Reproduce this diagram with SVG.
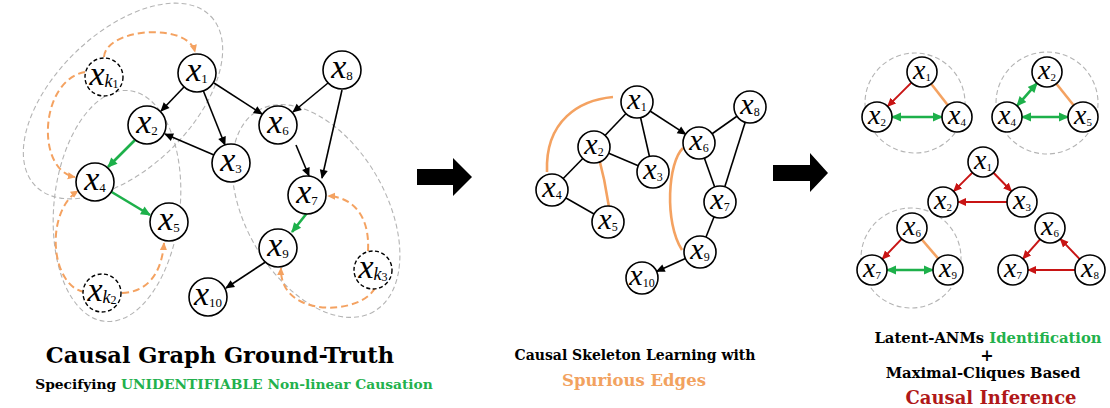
<svg xmlns="http://www.w3.org/2000/svg" width="1110" height="408" viewBox="0 0 1110 408">
<style>
.n{fill:#fff;stroke:#000;stroke-width:1.6}
.nd{fill:#fff;stroke:#000;stroke-width:1.4;stroke-dasharray:4 2.5}
.t{font-family:"Liberation Serif","Times New Roman",serif;text-anchor:middle;fill:#000}
.v{font-style:italic}
.blk{stroke:#000;stroke-width:1.6;fill:none}
.grn{stroke:#1db04a;stroke-width:2.6;fill:none}
.red{stroke:#c81414;stroke-width:2;fill:none}
.org{stroke:#f4a261;stroke-width:2.6;fill:none}
.od{stroke:#f4a261;stroke-width:2;fill:none;stroke-dasharray:7 4}
.gd{stroke:#b4b4b4;stroke-width:1.1;fill:none;stroke-dasharray:5 3}
.cap{font-family:"DejaVu Serif","Liberation Serif",serif;font-weight:bold;text-anchor:middle;fill:#000}
.cg{fill:#22b14c}
.co{fill:#f2a25f}
.cr{fill:#b01818}
</style>
<defs>
<marker id="ab" viewBox="0 0 10 10" refX="9" refY="5" markerWidth="10" markerHeight="9" markerUnits="userSpaceOnUse" orient="auto-start-reverse"><path d="M0,0.5 L10,5 L0,9.5 z" fill="#000"/></marker>
<marker id="ag" viewBox="0 0 10 10" refX="9" refY="5" markerWidth="11" markerHeight="10" markerUnits="userSpaceOnUse" orient="auto-start-reverse"><path d="M0,0.5 L10,5 L0,9.5 z" fill="#1db04a"/></marker>
<marker id="ar" viewBox="0 0 10 10" refX="9" refY="5" markerWidth="9" markerHeight="9" markerUnits="userSpaceOnUse" orient="auto-start-reverse"><path d="M0,0.5 L10,5 L0,9.5 z" fill="#c81414"/></marker>
<marker id="ao" viewBox="0 0 10 10" refX="9" refY="5" markerWidth="8" markerHeight="8" markerUnits="userSpaceOnUse" orient="auto-start-reverse"><path d="M0,0.5 L10,5 L0,9.5 z" fill="#f4a261"/></marker>
</defs>
<rect width="1110" height="408" fill="#fff"/>

<g id="groupings">
<ellipse class="gd" cx="123" cy="101" rx="122" ry="68" transform="rotate(-44 123 101)"/>
<ellipse class="gd" cx="117" cy="206" rx="63" ry="116" transform="rotate(6 117 206)"/>
<ellipse class="gd" cx="316" cy="211" rx="116" ry="70" transform="rotate(60 316 211)"/>
<circle class="gd" cx="915" cy="103" r="50"/>
<circle class="gd" cx="1047" cy="103" r="51"/>
<circle class="gd" cx="911" cy="258" r="50"/>
</g>

<g id="connectors">
<!-- left panel -->
<line class="blk" x1="184" y1="87" x2="161" y2="111" marker-end="url(#ab)"/>
<line class="blk" x1="203" y1="90" x2="225" y2="145" marker-end="url(#ab)"/>
<line class="blk" x1="214" y1="83" x2="262" y2="114" marker-end="url(#ab)"/>
<line class="blk" x1="214" y1="155" x2="165" y2="134" marker-end="url(#ab)"/>
<line class="blk" x1="328" y1="83" x2="293" y2="112" marker-end="url(#ab)"/>
<line class="blk" x1="342" y1="90" x2="322" y2="178" marker-end="url(#ab)"/>
<line class="blk" x1="296" y1="145" x2="309" y2="176" marker-end="url(#ab)"/>
<line class="blk" x1="267" y1="261" x2="226" y2="288" marker-end="url(#ab)"/>
<line class="grn" x1="135" y1="140" x2="108" y2="167" marker-end="url(#ag)"/>
<line class="grn" x1="110" y1="191" x2="150" y2="215" marker-end="url(#ag)"/>
<line class="grn" x1="307" y1="213" x2="292" y2="232" marker-end="url(#ag)"/>
<path class="od" d="M104,57 C106,28 188,22 195,52" marker-end="url(#ao)"/>
<path class="od" d="M85,72 C40,80 35,170 75,177" marker-end="url(#ao)"/>
<path class="od" d="M84,292 C50,285 45,212 78,191" marker-end="url(#ao)"/>
<path class="od" d="M122,293 C150,292 162,270 164,243" marker-end="url(#ao)"/>
<path class="od" d="M368,251 C370,215 352,197 328,196" marker-end="url(#ao)"/>
<path class="od" d="M375,288 C360,316 279,318 281,268" marker-end="url(#ao)"/>
<!-- middle panel -->
<line class="blk" x1="637" y1="102" x2="594" y2="147"/>
<line class="blk" x1="637" y1="102" x2="653" y2="172"/>
<line class="blk" x1="650" y1="111" x2="685.7" y2="134.2" marker-end="url(#ab)"/>
<line class="blk" x1="594" y1="147" x2="653" y2="172"/>
<line class="blk" x1="594" y1="147" x2="552" y2="190"/>
<line class="blk" x1="552" y1="190" x2="608" y2="222"/>
<line class="blk" x1="699" y1="143" x2="750" y2="107"/>
<line class="blk" x1="699" y1="143" x2="720" y2="202"/>
<line class="blk" x1="750" y1="107" x2="720" y2="202"/>
<line class="blk" x1="720" y1="202" x2="700" y2="252"/>
<line class="blk" x1="685.4" y1="258.5" x2="656.6" y2="271.5" marker-end="url(#ab)"/>
<path class="org" d="M613,97 C580,100 545,120 547,172"/>
<path class="org" d="M598,154 Q605,180 609,207"/>
<path class="org" d="M683,148 C668,162 664,222 682,250"/>
<!-- right panel -->
<line class="red" x1="911.4" y1="82.6" x2="887.6" y2="106.4" marker-end="url(#ar)"/>
<line class="org" x1="922" y1="72" x2="957" y2="117"/>
<line class="grn" x1="892" y1="117" x2="942" y2="117" marker-start="url(#ag)" marker-end="url(#ag)"/>
<line class="grn" x1="1037" y1="83.2" x2="1017" y2="105.8" marker-start="url(#ag)" marker-end="url(#ag)"/>
<line class="org" x1="1047" y1="72" x2="1083" y2="117"/>
<line class="grn" x1="1022" y1="117" x2="1068" y2="117" marker-start="url(#ag)" marker-end="url(#ag)"/>
<line class="red" x1="972.4" y1="172.6" x2="953.6" y2="191.4" marker-end="url(#ar)"/>
<line class="red" x1="993.5" y1="172.7" x2="1011.5" y2="191.3" marker-end="url(#ar)"/>
<line class="red" x1="1007" y1="202" x2="958" y2="202" marker-end="url(#ar)"/>
<line class="red" x1="901.7" y1="238.9" x2="882.3" y2="259.1" marker-end="url(#ar)"/>
<line class="org" x1="912" y1="228" x2="948" y2="270"/>
<line class="grn" x1="887" y1="270" x2="933" y2="270" marker-start="url(#ag)" marker-end="url(#ag)"/>
<line class="red" x1="1040" y1="239.3" x2="1022.9" y2="258.8" marker-end="url(#ar)"/>
<line class="red" x1="1079.7" y1="259.1" x2="1060.3" y2="238.9" marker-end="url(#ar)"/>
<line class="red" x1="1075" y1="270" x2="1028" y2="270" marker-end="url(#ar)"/>
</g>

<!-- left panel nodes -->
<g id="L-xk1"><circle class="nd" cx="104" cy="77" r="19"/><text class="t" x="104" y="85" font-size="34"><tspan class="v">x</tspan><tspan class="v" font-size="18" dy="2">k</tspan><tspan font-size="12" dy="1">1</tspan></text></g>
<g id="L-x1"><circle class="n" cx="197" cy="73" r="19"/><text class="t" x="197" y="81" font-size="34"><tspan class="v">x</tspan><tspan font-size="13" dy="2">1</tspan></text></g>
<g id="L-x8"><circle class="n" cx="342" cy="70" r="19"/><text class="t" x="342" y="78" font-size="34"><tspan class="v">x</tspan><tspan font-size="13" dy="2">8</tspan></text></g>
<g id="L-x2"><circle class="n" cx="147" cy="125" r="19"/><text class="t" x="147" y="133" font-size="34"><tspan class="v">x</tspan><tspan font-size="13" dy="2">2</tspan></text></g>
<g id="L-x6"><circle class="n" cx="278" cy="125" r="19"/><text class="t" x="278" y="133" font-size="34"><tspan class="v">x</tspan><tspan font-size="13" dy="2">6</tspan></text></g>
<g id="L-x3"><circle class="n" cx="231" cy="163" r="19"/><text class="t" x="231" y="171" font-size="34"><tspan class="v">x</tspan><tspan font-size="13" dy="2">3</tspan></text></g>
<g id="L-x4"><circle class="n" cx="95" cy="182" r="19"/><text class="t" x="95" y="190" font-size="34"><tspan class="v">x</tspan><tspan font-size="13" dy="2">4</tspan></text></g>
<g id="L-x7"><circle class="n" cx="307" cy="195" r="19"/><text class="t" x="307" y="203" font-size="34"><tspan class="v">x</tspan><tspan font-size="13" dy="2">7</tspan></text></g>
<g id="L-x5"><circle class="n" cx="169" cy="222" r="19"/><text class="t" x="169" y="230" font-size="34"><tspan class="v">x</tspan><tspan font-size="13" dy="2">5</tspan></text></g>
<g id="L-x9"><circle class="n" cx="278" cy="248" r="19"/><text class="t" x="278" y="256" font-size="34"><tspan class="v">x</tspan><tspan font-size="13" dy="2">9</tspan></text></g>
<g id="L-xk3"><circle class="nd" cx="373" cy="270" r="19"/><text class="t" x="373" y="278" font-size="34"><tspan class="v">x</tspan><tspan class="v" font-size="18" dy="2">k</tspan><tspan font-size="12" dy="1">3</tspan></text></g>
<g id="L-xk2"><circle class="nd" cx="102" cy="293" r="19"/><text class="t" x="102" y="301" font-size="34"><tspan class="v">x</tspan><tspan class="v" font-size="18" dy="2">k</tspan><tspan font-size="12" dy="1">2</tspan></text></g>
<g id="L-x10"><circle class="n" cx="208" cy="297" r="19"/><text class="t" x="208" y="305" font-size="34"><tspan class="v">x</tspan><tspan font-size="13" dy="2">10</tspan></text></g>

<!-- middle panel nodes -->
<g id="M-x1"><circle class="n" cx="637" cy="102" r="16"/><text class="t" x="637" y="109" font-size="30"><tspan class="v">x</tspan><tspan font-size="12" dy="2">1</tspan></text></g>
<g id="M-x8"><circle class="n" cx="750" cy="107" r="16"/><text class="t" x="750" y="114" font-size="30"><tspan class="v">x</tspan><tspan font-size="12" dy="2">8</tspan></text></g>
<g id="M-x2"><circle class="n" cx="594" cy="147" r="16"/><text class="t" x="594" y="154" font-size="30"><tspan class="v">x</tspan><tspan font-size="12" dy="2">2</tspan></text></g>
<g id="M-x6"><circle class="n" cx="699" cy="143" r="16"/><text class="t" x="699" y="150" font-size="30"><tspan class="v">x</tspan><tspan font-size="12" dy="2">6</tspan></text></g>
<g id="M-x3"><circle class="n" cx="653" cy="172" r="16"/><text class="t" x="653" y="179" font-size="30"><tspan class="v">x</tspan><tspan font-size="12" dy="2">3</tspan></text></g>
<g id="M-x4"><circle class="n" cx="552" cy="190" r="16"/><text class="t" x="552" y="197" font-size="30"><tspan class="v">x</tspan><tspan font-size="12" dy="2">4</tspan></text></g>
<g id="M-x5"><circle class="n" cx="608" cy="222" r="16"/><text class="t" x="608" y="229" font-size="30"><tspan class="v">x</tspan><tspan font-size="12" dy="2">5</tspan></text></g>
<g id="M-x7"><circle class="n" cx="720" cy="202" r="16"/><text class="t" x="720" y="209" font-size="30"><tspan class="v">x</tspan><tspan font-size="12" dy="2">7</tspan></text></g>
<g id="M-x9"><circle class="n" cx="700" cy="252" r="16"/><text class="t" x="700" y="259" font-size="30"><tspan class="v">x</tspan><tspan font-size="12" dy="2">9</tspan></text></g>
<g id="M-x10"><circle class="n" cx="642" cy="278" r="16"/><text class="t" x="642" y="285" font-size="30"><tspan class="v">x</tspan><tspan font-size="12" dy="2">10</tspan></text></g>

<!-- right panel nodes -->
<g id="R1-x1"><circle class="n" cx="922" cy="72" r="15"/><text class="t" x="922" y="79" font-size="28"><tspan class="v">x</tspan><tspan font-size="11" dy="2">1</tspan></text></g>
<g id="R1-x2"><circle class="n" cx="877" cy="117" r="15"/><text class="t" x="877" y="124" font-size="28"><tspan class="v">x</tspan><tspan font-size="11" dy="2">2</tspan></text></g>
<g id="R1-x4"><circle class="n" cx="957" cy="117" r="15"/><text class="t" x="957" y="124" font-size="28"><tspan class="v">x</tspan><tspan font-size="11" dy="2">4</tspan></text></g>
<g id="R2-x2"><circle class="n" cx="1047" cy="72" r="15"/><text class="t" x="1047" y="79" font-size="28"><tspan class="v">x</tspan><tspan font-size="11" dy="2">2</tspan></text></g>
<g id="R2-x4"><circle class="n" cx="1007" cy="117" r="15"/><text class="t" x="1007" y="124" font-size="28"><tspan class="v">x</tspan><tspan font-size="11" dy="2">4</tspan></text></g>
<g id="R2-x5"><circle class="n" cx="1083" cy="117" r="15"/><text class="t" x="1083" y="124" font-size="28"><tspan class="v">x</tspan><tspan font-size="11" dy="2">5</tspan></text></g>
<g id="R3-x1"><circle class="n" cx="983" cy="162" r="15"/><text class="t" x="983" y="169" font-size="28"><tspan class="v">x</tspan><tspan font-size="11" dy="2">1</tspan></text></g>
<g id="R3-x2"><circle class="n" cx="943" cy="202" r="15"/><text class="t" x="943" y="209" font-size="28"><tspan class="v">x</tspan><tspan font-size="11" dy="2">2</tspan></text></g>
<g id="R3-x3"><circle class="n" cx="1022" cy="202" r="15"/><text class="t" x="1022" y="209" font-size="28"><tspan class="v">x</tspan><tspan font-size="11" dy="2">3</tspan></text></g>
<g id="R4-x6"><circle class="n" cx="912" cy="228" r="15"/><text class="t" x="912" y="235" font-size="28"><tspan class="v">x</tspan><tspan font-size="11" dy="2">6</tspan></text></g>
<g id="R4-x7"><circle class="n" cx="872" cy="270" r="15"/><text class="t" x="872" y="277" font-size="28"><tspan class="v">x</tspan><tspan font-size="11" dy="2">7</tspan></text></g>
<g id="R4-x9"><circle class="n" cx="948" cy="270" r="15"/><text class="t" x="948" y="277" font-size="28"><tspan class="v">x</tspan><tspan font-size="11" dy="2">9</tspan></text></g>
<g id="R5-x6"><circle class="n" cx="1050" cy="228" r="15"/><text class="t" x="1050" y="235" font-size="28"><tspan class="v">x</tspan><tspan font-size="11" dy="2">6</tspan></text></g>
<g id="R5-x7"><circle class="n" cx="1013" cy="270" r="15"/><text class="t" x="1013" y="277" font-size="28"><tspan class="v">x</tspan><tspan font-size="11" dy="2">7</tspan></text></g>
<g id="R5-x8"><circle class="n" cx="1090" cy="270" r="15"/><text class="t" x="1090" y="277" font-size="28"><tspan class="v">x</tspan><tspan font-size="11" dy="2">8</tspan></text></g>

<!-- stage arrows -->
<g id="stage-arrows" fill="#000">
<polygon points="417,169 453,169 453,158 472,177 453,196 453,185 417,185"/>
<polygon points="773,165 810,165 810,153 828,173 810,192 810,181 773,181"/>
</g>

<!-- captions -->
<g id="captions">
<text class="cap" x="220" y="363" font-size="22.5">Causal Graph Ground-Truth</text>
<text class="cap" x="234" y="389" font-size="13.8">Specifying <tspan class="cg">UNIDENTIFIABLE Non-linear Causation</tspan></text>
<text class="cap" x="635" y="360" font-size="14">Causal Skeleton Learning with</text>
<text class="cap co" x="634" y="386" font-size="16.5">Spurious Edges</text>
<text class="cap" x="988" y="343" font-size="14.8"><tspan>Latent-ANMs </tspan><tspan class="cg">Identification</tspan></text>
<text class="cap" x="987" y="361" font-size="16">+</text>
<text class="cap" x="983" y="378" font-size="14.8">Maximal-Cliques Based</text>
<text class="cap cr" x="991" y="404" font-size="18">Causal Inference</text>
</g>
</svg>
